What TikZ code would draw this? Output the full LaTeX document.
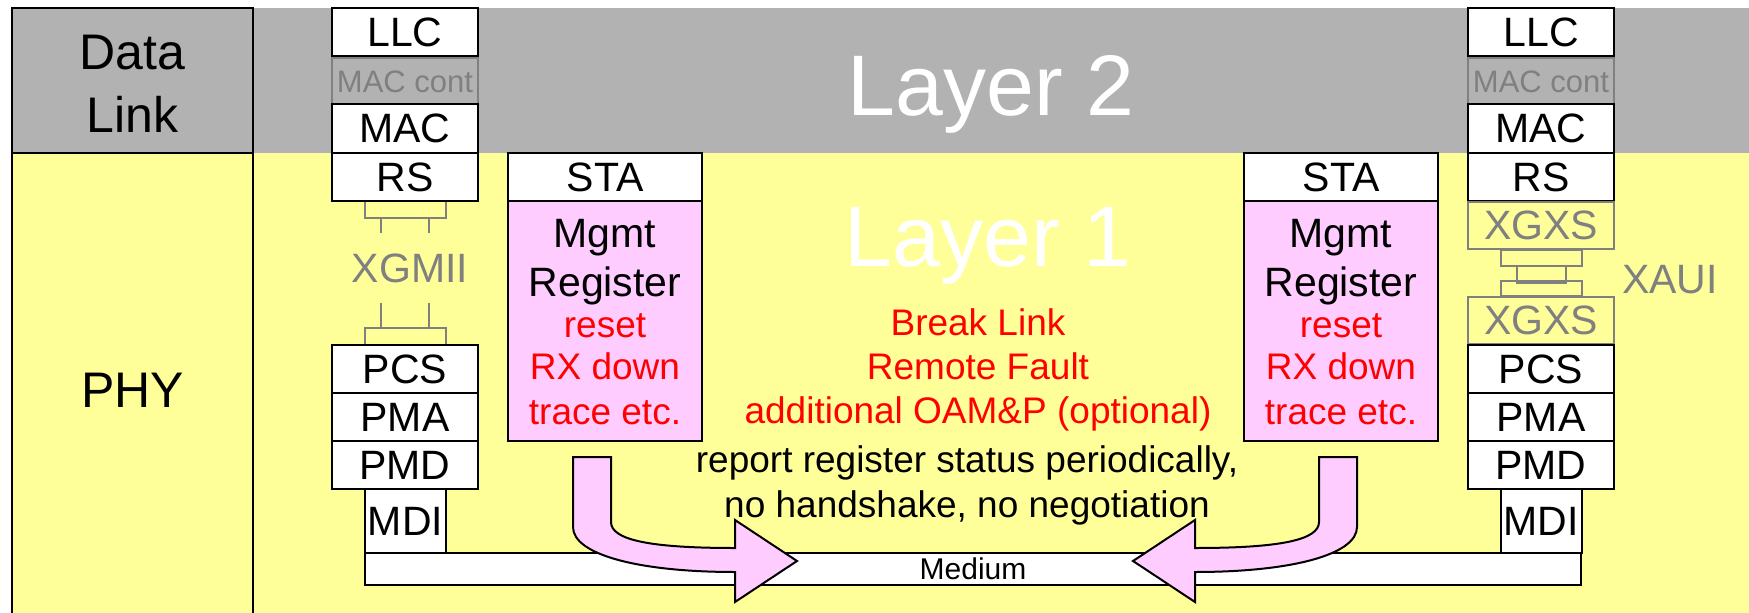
\documentclass[tikz,border=0pt]{standalone}
\usepackage{fontspec}
\setmainfont{Liberation Sans}
\usetikzlibrary{calc}
\definecolor{bandgray}{HTML}{B2B2B2}
\definecolor{phyyellow}{HTML}{FFFF99}
\definecolor{regpink}{HTML}{FFCCFF}
\definecolor{dimgrey}{HTML}{808080}
\newcommand\fsz[1]{\fontsize{#1}{#1}\selectfont}

\begin{document}
\begin{tikzpicture}[x=1pt,y=-1pt,
  layer/.style={draw=black, line width=2pt, fill=white, minimum width=146pt,
    minimum height=48.25pt, inner sep=0pt, font=\fsz{41}},
  ghost/.style={draw=dimgrey, line width=2pt, text=dimgrey, minimum width=146pt,
    minimum height=47pt, inner sep=0pt, font=\fsz{41}},
  stabox/.style={layer, minimum width=194pt, minimum height=48pt},
  regbox/.style={draw=black, line width=2pt, fill=regpink, minimum width=194pt,
    minimum height=240pt, inner sep=0pt},
  mdibox/.style={draw=black, line width=2pt, fill=white, minimum width=81pt,
    minimum height=64pt, inner sep=0pt, font=\fsz{41}},
  lbl/.style={inner sep=0pt, anchor=base},
  gline/.style={draw=dimgrey, line width=2pt},
  blockarrow/.style={draw=black, line width=2pt, fill=regpink, line join=miter},
  regtext/.style={lbl, font=\fsz{41}},
  notetext/.style={lbl, font=\fsz{37}, text=red},
]

\useasboundingbox (0,0) rectangle (1749,613);
\fill[white] (0,0) rectangle (1749,613);

% layer bands and the left label column
\fill[bandgray] (12,8) rectangle (1749,153);
\fill[phyyellow] (12,153) rectangle (1749,613);
\draw[line width=2pt] (12,625) -- (12,8) -- (253,8) -- (253,625)
  (12,153) -- (253,153);

\node[lbl, font=\fsz{50}] (dl1) at (132.5,69) {Data};
\node[lbl, font=\fsz{50}] (dl2) at (132.5,132) {Link};
\node[lbl, font=\fsz{50}] (phy) at (132.5,407) {PHY};

\node[lbl, font=\fsz{86}, text=white] (l2) at (991,115) {Layer 2};
\node[lbl, font=\fsz{86}, text=white] (l1) at (988,266) {Layer 1};

% left station stack
\node[layer] (llcL) at (405,32.1) {LLC};
\node[ghost, font=\fsz{31}] (maccL) at (405,81.5) {MAC cont};
\node[layer] (macL) at (405,128.6) {MAC};
\node[layer] (rsL) at (405,176.9) {RS};
\node[layer] (pcsL) at (405,369) {PCS};
\node[layer] (pmaL) at (405,417) {PMA};
\node[layer] (pmdL) at (405,465) {PMD};

% XGMII between RS and PCS
\draw[gline] ($(rsL.south)+(-40,0)$) -- ++(0,16) -- ++(81,0) -- ++(0,-16);
\draw[gline] ($(rsL.south)+(-24,16)$) -- ++(0,15) ($(rsL.south)+(24,16)$) -- ++(0,15);
\draw[gline] ($(pcsL.north)+(-40,0)$) -- ++(0,-16) -- ++(81,0) -- ++(0,16);
\draw[gline] ($(pcsL.north)+(-24,-16)$) -- ++(0,-25) ($(pcsL.north)+(24,-16)$) -- ++(0,-25);
\node[lbl, font=\fsz{41}, text=dimgrey] (xgmii) at (410,282) {XGMII};

% right station stack
\node[layer] (llcR) at (1541,32.1) {LLC};
\node[ghost, font=\fsz{31}] (maccR) at (1541,81.5) {MAC cont};
\node[layer] (macR) at (1541,128.6) {MAC};
\node[layer] (rsR) at (1541,176.9) {RS};
\node[ghost] (xgxsA) at (1541,225.5) {XGXS};
\node[ghost] (xgxsB) at (1541,320.5) {XGXS};
\node[layer] (pcsR) at (1541,369) {PCS};
\node[layer] (pmaR) at (1541,417) {PMA};
\node[layer] (pmdR) at (1541,465) {PMD};

% XAUI between the two XGXS sublayers
\draw[gline] ($(xgxsA.south)+(-40,0)$) rectangle ++(81,16);
\draw[gline] ($(xgxsA.south)+(-24,16)$) rectangle ++(49,17);
\draw[gline] ($(xgxsB.north)+(-40,0)$) rectangle ++(81,-15);
\node[lbl, font=\fsz{41}, text=dimgrey] (xaui) at (1670,293) {XAUI};

% medium and MDIs
\node[draw=black, line width=2pt, fill=white, minimum width=1216pt, minimum height=32pt,
  inner sep=0pt, font=\fsz{30}] (medium) at (973,569) {Medium};
\node[mdibox] (mdiL) at (405.5,521) {MDI};
\node[mdibox] (mdiR) at (1541,521) {MDI};

% management blocks
\node[stabox] (staL) at (605,177) {STA};
\node[regbox] (regL) at (605,321) {};
\node[stabox] (staR) at (1341,177) {STA};
\node[regbox] (regR) at (1341,321) {};

\foreach \cx/\s in {605/L, 1341/R} {
  \node[regtext] (mg\s) at (\cx,247) {Mgmt};
  \node[regtext] (rg\s) at (\cx,296) {Register};
  \node[notetext] (rs\s) at (\cx,337) {reset};
  \node[notetext] (rx\s) at (\cx,379) {RX down};
  \node[notetext] (tr\s) at (\cx,424) {trace etc.};
}

% curved block arrows onto the medium
\path[blockarrow] (573,457) -- (611,457) -- (611,522)
  .. controls (611,540) and (650,548) .. (735,548) -- (735,520) -- (797,561)
  -- (735,602) -- (735,572) .. controls (640,572) and (573,555) .. (573,527) -- cycle;
\path[blockarrow] (1357,457) -- (1319,457) -- (1319,522)
  .. controls (1319,540) and (1280,548) .. (1195,548) -- (1195,520) -- (1133,561)
  -- (1195,602) -- (1195,572) .. controls (1290,572) and (1357,555) .. (1357,527) -- cycle;

% OAM notes
\node[notetext] (n1) at (978,335) {Break Link};
\node[notetext] (n2) at (978,379) {Remote Fault};
\node[notetext] (n3) at (978,423) {additional OAM\&P (optional)};
\node[lbl, font=\fsz{37}] (n4) at (967,472) {report register status periodically,};
\node[lbl, font=\fsz{37}] (n5) at (967,517) {no handshake, no negotiation};
\end{tikzpicture}
\end{document}
